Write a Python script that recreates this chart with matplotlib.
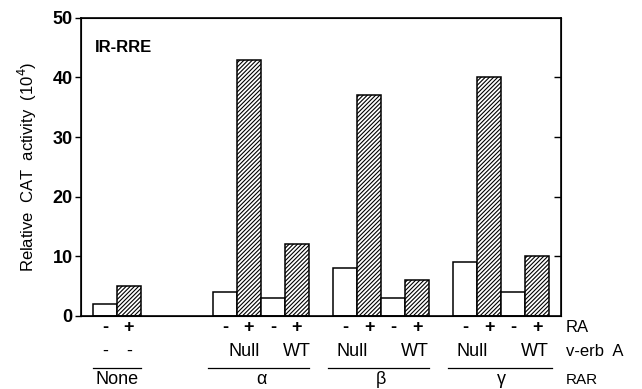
import matplotlib
matplotlib.use("Agg")
import matplotlib.pyplot as plt
import matplotlib.transforms as mtransforms

plt.rcParams["font.family"] = ["Liberation Sans", "DejaVu Sans"]
plt.rcParams["hatch.linewidth"] = 0.8

# bar positions (in bar-width units) and values
positions = [1, 2, 6, 7, 8, 9, 11, 12, 13, 14, 16, 17, 18, 19]
values = [2, 5, 4, 43, 3, 12, 8, 37, 3, 6, 9, 40, 4, 10]
ra_labels = ["-", "+", "-", "+", "-", "+", "-", "+", "-", "+", "-", "+", "-", "+"]

# v-erb A row
verb_labels = ["-", "-", "Null", "WT", "Null", "WT", "Null", "WT"]
verb_x = [1, 2, 6.8, 9.0, 11.3, 13.9, 16.3, 18.9]

# RAR row
rar_labels = ["None", "α", "β", "γ"]
rar_x = [1.5, 7.5, 12.5, 17.5]
rar_spans = [(0.5, 2.5), (5.3, 9.5), (10.3, 14.5), (15.3, 19.6)]

fig = plt.figure(figsize=(6.42, 3.89), dpi=100)
ax = fig.add_axes([0.126, 0.188, 0.748, 0.766])

for x, v, lab in zip(positions, values, ra_labels):
    hatched = lab == "+"
    ax.bar(x, v, width=1.0, facecolor="white", edgecolor="black", linewidth=1.1,
           hatch="////////" if hatched else None)

ax.set_xlim(0, 20)
ax.set_ylim(0, 50)
ax.set_xticks([])
ax.set_yticks([0, 10, 20, 30, 40, 50])
ax.tick_params(axis="y", direction="out", length=4, width=1.0, labelsize=13, pad=2)
for lbl in ax.get_yticklabels():
    lbl.set_fontweight("bold")
for s in ax.spines.values():
    s.set_linewidth(1.2)

# right side inward ticks
ax2 = ax.twinx()
ax2.set_ylim(0, 50)
ax2.set_yticks([10, 20, 30, 40])
ax2.tick_params(axis="y", direction="in", length=5, width=1.0, labelright=False)

ax.set_ylabel("Relative  CAT  activity  (10$^4$)", fontsize=12, labelpad=10)
ax.text(0.03, 0.9, "IR-RRE", transform=ax.transAxes, fontsize=12,
        fontweight="bold", ha="left", va="center")

trans = mtransforms.blended_transform_factory(ax.transData, ax.transAxes)
for x, lab in zip(positions, ra_labels):
    ax.text(x, -0.04, lab, transform=trans, ha="center", va="center",
            fontsize=13, fontweight="bold", clip_on=False)
ax.text(20.2, -0.04, "RA", transform=trans, ha="left", va="center",
        fontsize=12, clip_on=False)

for x, lab in zip(verb_x, verb_labels):
    ax.text(x, -0.12, lab, transform=trans, ha="center", va="center",
            fontsize=13, clip_on=False)
ax.text(20.2, -0.12, "v-erb  A", transform=trans, ha="left", va="center",
        fontsize=12, clip_on=False)

for (x0, x1) in rar_spans:
    ax.plot([x0, x1], [-0.175, -0.175], transform=trans, color="black",
            linewidth=0.9, clip_on=False)
for x, lab in zip(rar_x, rar_labels):
    ax.text(x, -0.215, lab, transform=trans, ha="center", va="center",
            fontsize=13, clip_on=False)
ax.text(20.2, -0.215, "RAR", transform=trans, ha="left", va="center",
        fontsize=11, clip_on=False)

fig.savefig("out.png", dpi=100)
